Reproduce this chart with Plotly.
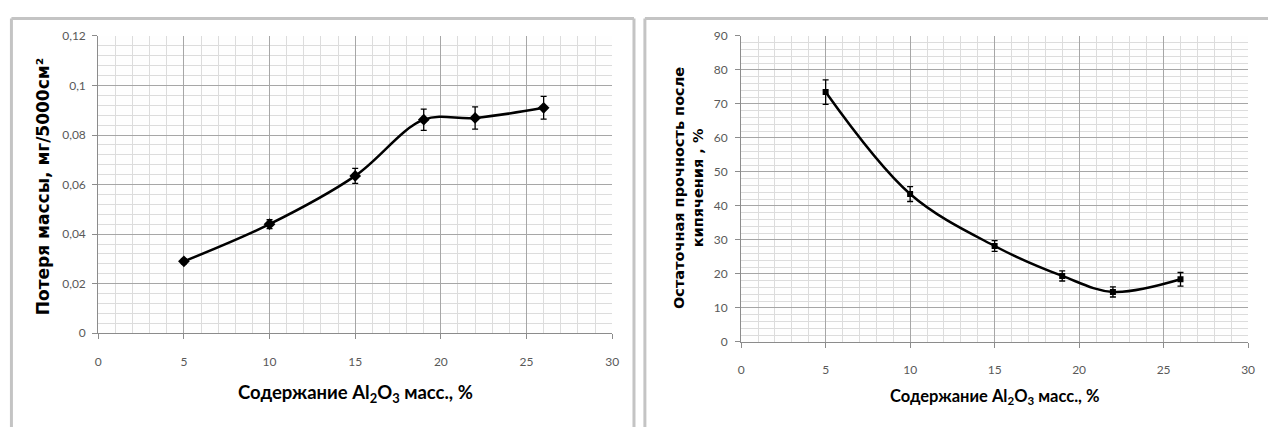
import plotly.graph_objects as go

# ---- data ----
al2o3 = [5, 10, 15, 19, 22, 26]
mass_loss = [0.029, 0.044, 0.0635, 0.0862, 0.0869, 0.091]
mass_loss_err = [0.001, 0.0018, 0.003, 0.0043, 0.0045, 0.0046]
strength = [73.5, 43.5, 28.2, 19.4, 14.7, 18.4]
strength_err = [3.6, 2.2, 1.6, 1.5, 1.5, 2.0]
x_ticks = [0, 5, 10, 15, 20, 25, 30]

W, H = 1268, 427


def px(x):
    return x / W


def py(y):
    return 1 - y / H


fig = go.Figure()

fig.add_trace(go.Scatter(
    x=al2o3, y=mass_loss, mode="lines+markers",
    line=dict(color="black", width=2.5, shape="spline", smoothing=1.0),
    marker=dict(symbol="diamond", size=9, color="black"),
    error_y=dict(type="data", array=mass_loss_err, visible=True,
                 color="black", thickness=1.3, width=3),
    xaxis="x", yaxis="y", showlegend=False))

fig.add_trace(go.Scatter(
    x=al2o3, y=strength, mode="lines+markers",
    line=dict(color="black", width=2.5, shape="spline", smoothing=1.0),
    marker=dict(symbol="square", size=6, color="black"),
    error_y=dict(type="data", array=strength_err, visible=True,
                 color="black", thickness=1.3, width=3),
    xaxis="x2", yaxis="y2", showlegend=False))

tickfont = dict(family="Lato, Open Sans, sans-serif", size=12, color="#595959")
major = "#a6a6a6"
minor = "#dcdcdc"

common_x = dict(
    range=[0, 30], tickvals=x_ticks, showgrid=True, gridcolor=major, gridwidth=1,
    minor=dict(dtick=1, showgrid=True, gridcolor=minor, gridwidth=1),
    showline=True, linecolor="#8c8c8c", linewidth=1,
    ticks="outside", ticklen=5, tickcolor="#8c8c8c",
    tickfont=tickfont, zeroline=False, fixedrange=True,
)

fig.update_layout(
    width=W, height=H,
    margin=dict(l=0, r=0, t=0, b=0),
    paper_bgcolor="white", plot_bgcolor="#fefefe",
    separators=", ",
    xaxis=dict(domain=[px(96), px(614)], anchor="y", ticklabelstandoff=12, **common_x),
    yaxis=dict(domain=[py(337), py(29)], anchor="x", range=[0, 0.12], dtick=0.02,
               showgrid=True, gridcolor=major,
               minor=dict(dtick=0.004, showgrid=True, gridcolor=minor),
               showline=True, linecolor="#8c8c8c", linewidth=1,
               ticks="outside", ticklen=5, tickcolor="#8c8c8c",
               tickfont=tickfont, ticklabelstandoff=4, zeroline=False, fixedrange=True),
    xaxis2=dict(domain=[px(744), px(1255)], anchor="y2", ticklabelstandoff=12, **common_x),
    yaxis2=dict(domain=[py(346), py(29)], anchor="x2", range=[0, 90], dtick=10,
                showgrid=True, gridcolor=major,
                minor=dict(dtick=2, showgrid=True, gridcolor=minor),
                showline=True, linecolor="#8c8c8c", linewidth=1,
                ticks="outside", ticklen=5, tickcolor="#8c8c8c",
                tickfont=tickfont, ticklabelstandoff=5, zeroline=False, fixedrange=True),
)

# panel frames
frame = dict(color="#c4c4c4", width=3)
fig.add_shape(type="line", xref="paper", yref="paper", x0=px(8.5), x1=px(8.5), y0=py(11), y1=py(440), line=frame)
fig.add_shape(type="line", xref="paper", yref="paper", x0=px(8.5), x1=px(636), y0=py(11), y1=py(11), line=frame)
fig.add_shape(type="line", xref="paper", yref="paper", x0=px(636), x1=px(636), y0=py(11), y1=py(440), line=frame)
fig.add_shape(type="line", xref="paper", yref="paper", x0=px(647), x1=px(647), y0=py(11), y1=py(440), line=frame)
fig.add_shape(type="line", xref="paper", yref="paper", x0=px(647), x1=px(1280), y0=py(11), y1=py(11), line=frame)

# axis titles
fig.add_annotation(x=px(40), y=py(185), xref="paper", yref="paper", textangle=-90,
                   text="<b>Потеря массы, мг/5000см²</b>", showarrow=False,
                   font=dict(family="DejaVu Sans", size=17, color="black"),
                   xanchor="center", yanchor="middle")
fig.add_annotation(x=px(355), y=py(400), xref="paper", yref="paper",
                   text="<b>Содержание Al<sub>2</sub>O<sub>3</sub> масс., %</b>", showarrow=False,
                   font=dict(family="Lato, Open Sans, sans-serif", size=18.5, color="black"),
                   xanchor="center", yanchor="middle")
fig.add_annotation(x=px(691), y=py(187), xref="paper", yref="paper", textangle=-90,
                   text="<b>Остаточная прочность после<br>кипячения , %</b>", showarrow=False,
                   font=dict(family="DejaVu Sans", size=14.5, color="black"),
                   xanchor="center", yanchor="middle")
fig.add_annotation(x=px(999), y=py(403), xref="paper", yref="paper",
                   text="<b>Содержание Al<sub>2</sub>O<sub>3</sub> масс., %</b>", showarrow=False,
                   font=dict(family="Lato, Open Sans, sans-serif", size=16.5, color="black"),
                   xanchor="center", yanchor="middle")

# remove the default page margin so the figure sits at the page origin
fig.write_html("out.html",
               config={"displayModeBar": False},
               post_script="document.body.style.margin='0';document.body.style.overflow='hidden';")
